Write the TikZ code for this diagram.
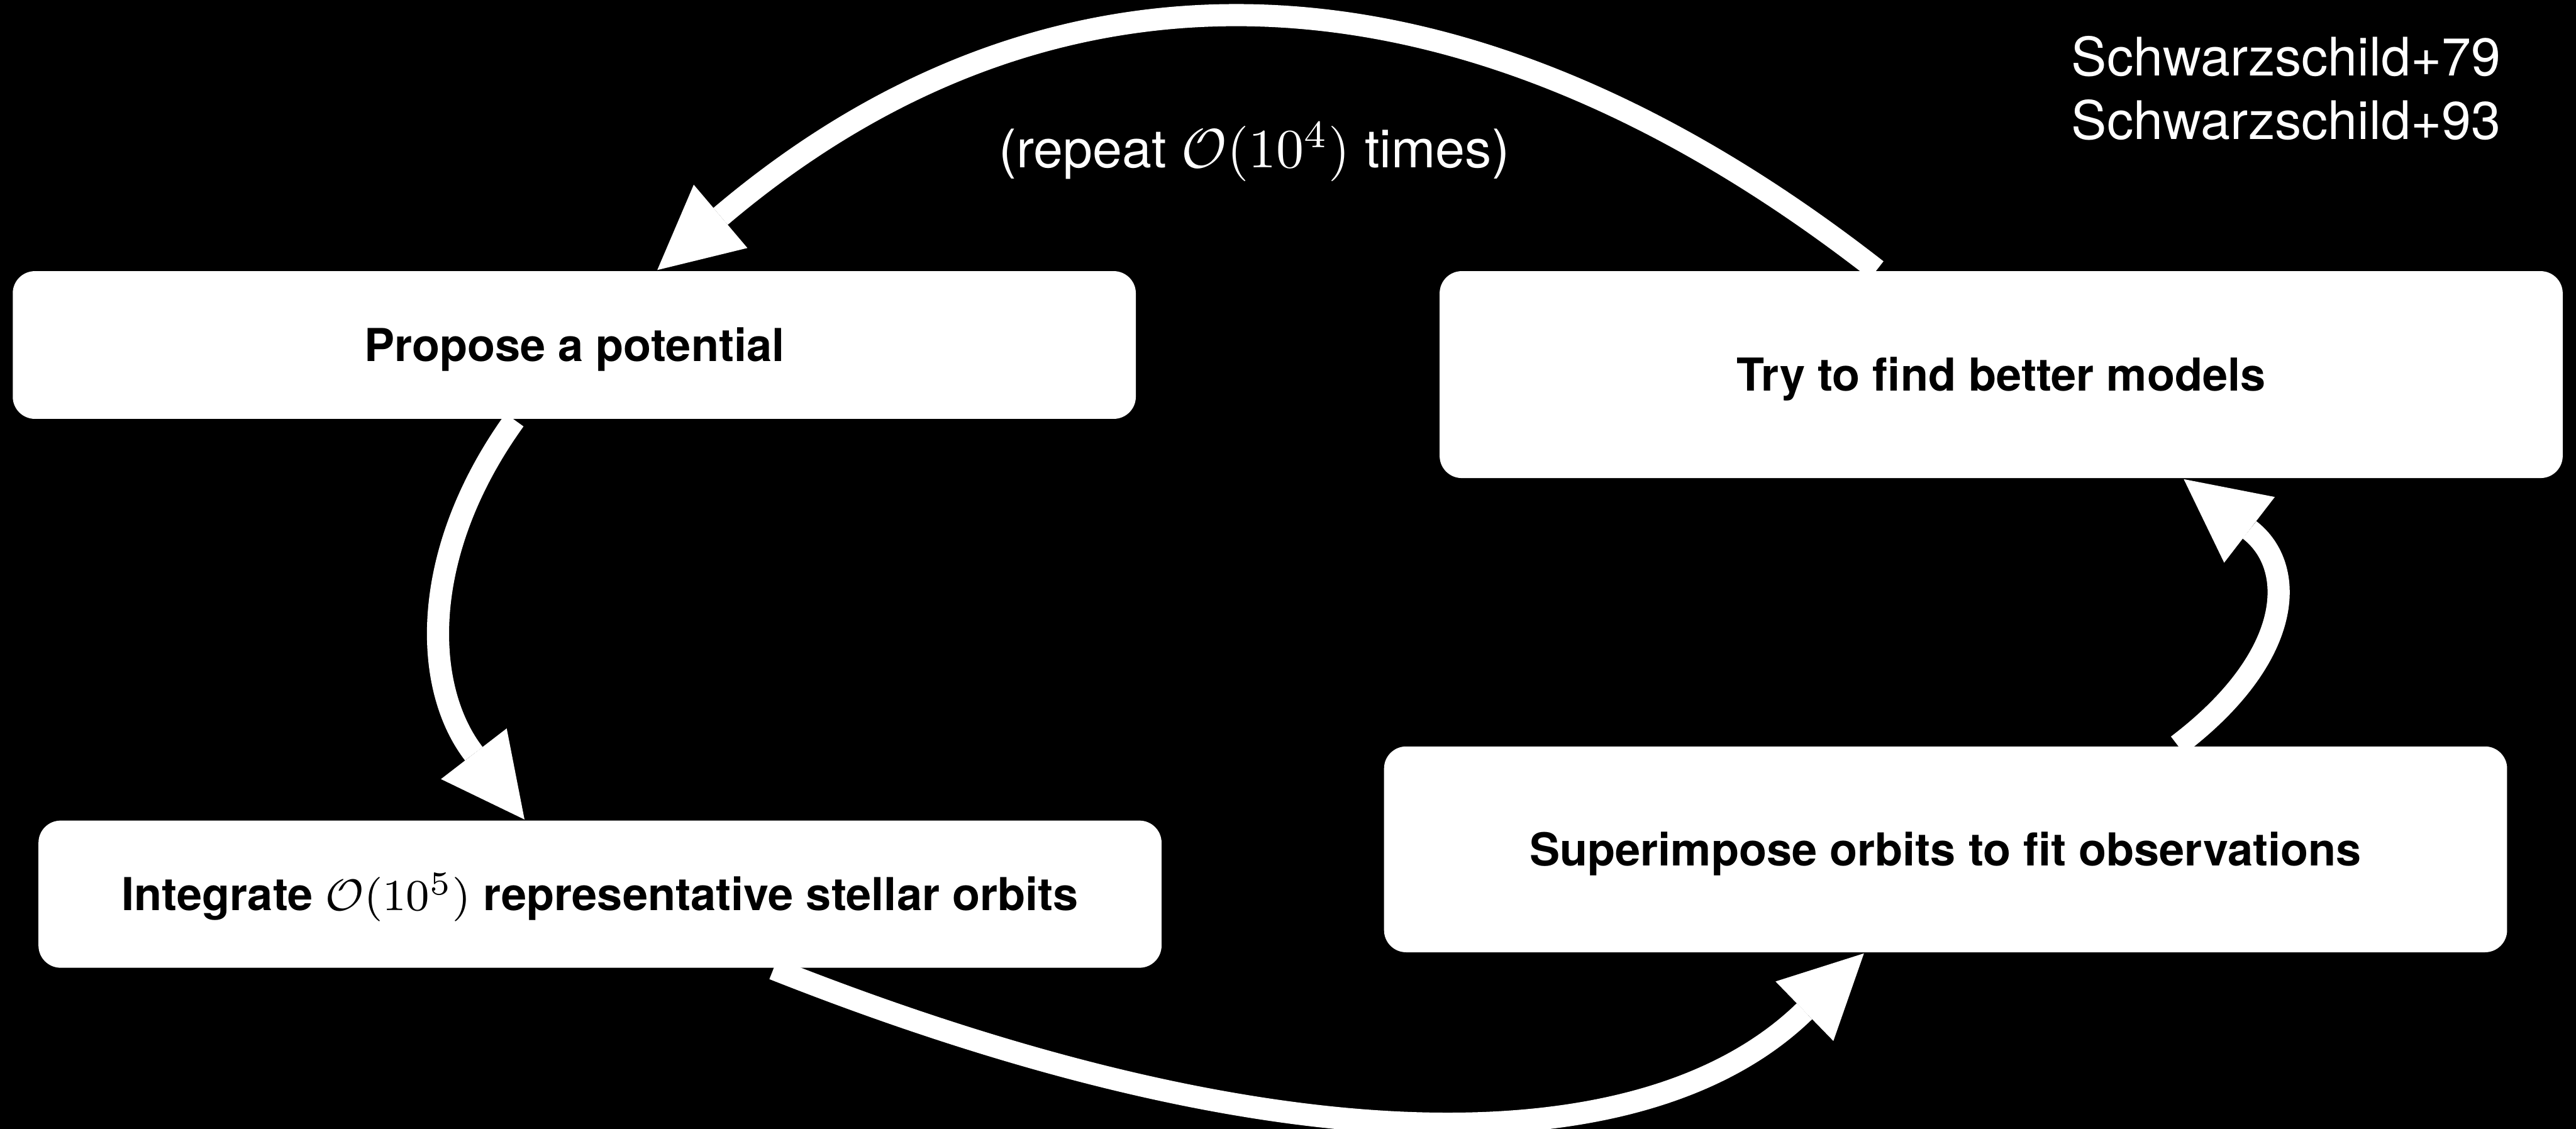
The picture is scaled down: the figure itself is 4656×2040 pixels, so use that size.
\documentclass[tikz,border=0pt]{standalone}
\usepackage{fontspec}
\setmainfont{TeX Gyre Heros}
\usetikzlibrary{arrows.meta}
\pgfdeclarelayer{bg}
\pgfsetlayers{bg,main}
\begin{document}
\begin{tikzpicture}[x=0.1pt,y=-0.1pt,
  box/.style={fill=white, rounded corners=4pt, minimum width=203pt, inner sep=0pt,
    text=black, font=\fontsize{8.2}{10}\selectfont\bfseries, text height=5.9pt, text depth=0pt},
  flow/.style={draw=white, line width=4pt, -{Triangle[length=15pt,width=15pt,line width=0pt]}},
  lbl/.style={text=white, inner sep=0pt, font=\fontsize{9.6}{11}\selectfont}]
\useasboundingbox (0,0) rectangle (4656,2040);

\node[box, minimum height=26.7pt] (prop) at (1038,623.5) {Propose a potential};
\node[box, minimum height=26.6pt] (integ) at (1084.5,1616) {Integrate $\mathcal{O}(10^5)$ representative stellar orbits};
\node[box, minimum height=37.4pt] (try) at (3617,677) {Try to find better models};
\node[box, minimum height=37.2pt] (sup) at (3516.5,1535) {Superimpose orbits to fit observations};

\node[lbl, anchor=base] (rep) at (2267,303) {(repeat $\mathcal{O}(10^4)$ times)};
\node[lbl, anchor=base east] (s79) at (4522,137) {Schwarzschild+79};
\node[lbl, anchor=base east] (s93) at (4522,252) {Schwarzschild+93};

\begin{pgfonlayer}{bg}
\fill[black] (0,0) rectangle (4656,2040);
\draw[flow] ([shift={(-108,0)}]prop.south) .. controls (757,999) and (763,1241) .. ([shift={(-136.5,0)}]integ.north);
\draw[flow] ([shift={(313.5,0)}]integ.south) .. controls (2318,2115) and (2975,2106) .. ([shift={(-147.5,0)}]sup.south);
\draw[flow] ([shift={(419.5,0)}]sup.north) .. controls (4148,1186) and (4152,1024) .. ([shift={(330,0)}]try.south);
\draw[flow] ([shift={(-225,0)}]try.north) .. controls (2627,-109) and (1892,-109) .. ([shift={(150,0)}]prop.north);
\end{pgfonlayer}
\end{tikzpicture}
\end{document}
